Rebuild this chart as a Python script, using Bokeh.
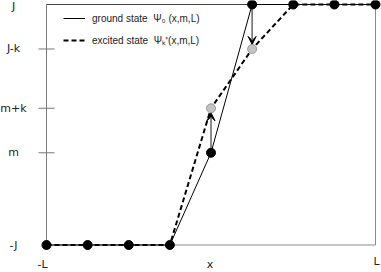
from bokeh.plotting import figure
from bokeh.models import Legend, LegendItem, Arrow, VeeHead
from bokeh.core.properties import value
from bokeh.embed import file_html
from bokeh.resources import INLINE

# ---- data ----
L = 4
J = 10.0
k = 3.7
m = -2.33

x_sites = [-4, -3, -2, -1, 0, 1, 2, 3, 4]
ground = [-J, -J, -J, -J, m, J, J, J, J]
excited = [-J, -J, -J, -J, m + k, J - k, J, J, J]
shift_sites = [0, 1]
shift_from = [m, J]
shift_to = [m + k, J - k]
y_tick_values = [J, J - k, m + k, m, -J]
y_tick_labels = ["J", "J-k", "m+k", "m", "-J"]
y_tick_marks = [J - k, m + k, m]
x_label_values = [-L, 0, L]
x_label_texts = ["-L", "x", "L"]
legend_labels = ["ground state  \u03a8\u2080 (x,m,L)", "excited state  \u03a8\u2096\u207a(x,m,L)"]

# ---- layout (frame covers the whole canvas) ----
W, H = 381, 272
PX_LEFT, PX_RIGHT = 46.0, 375.0     # pixel x of -L and L
PY_TOP, PY_BOT = 4.0, 244.5         # pixel y of J and -J
sx = (PX_RIGHT - PX_LEFT) / (2 * L)
sy = (PY_BOT - PY_TOP) / (2 * J)
x0 = -L - PX_LEFT / sx
x1 = x0 + W / sx
y1 = J + PY_TOP / sy
y0 = y1 - H / sy


def dx(px):
    return x0 + px / sx


def dy(py):
    return y1 - py / sy


p = figure(width=W, height=H, x_range=(x0, x1), y_range=(y0, y1),
           x_axis_type=None, y_axis_type=None, toolbar_location=None,
           output_backend="svg", min_border=0, outline_line_color=None,
           background_fill_color="white", border_fill_color="white")

# frame box
p.line([-L, -L], [-J, J], line_color="#7a7a7a", line_width=1)
p.line([-L, L], [J, J], line_color="#444444", line_width=1)
p.line([L, L], [-J, J], line_color="#8a8a8a", line_width=1)
p.line([-L, L], [-J, -J], line_color="#8a8a8a", line_width=1)

# left tick marks (8 px either side of the axis)
tick_half = 8 / sx
p.segment(x0=[-L - tick_half] * len(y_tick_marks), y0=y_tick_marks,
          x1=[-L + tick_half] * len(y_tick_marks), y1=y_tick_marks,
          line_color="#777777", line_width=1)

# curves
r_ground = p.line(x_sites, ground, line_color="black", line_width=1)
r_exc = p.line(x_sites, excited, line_color="black", line_width=2, line_dash="5 3")

# arrows
r_off = 4.5 / sy
for xs, yf, yt in zip(shift_sites, shift_from, shift_to):
    end_y = yt - r_off if yt > yf else yt + r_off
    arr = Arrow(end=VeeHead(size=8, fill_color="black", line_color="black", line_width=1),
                x_start=xs, y_start=yf, x_end=xs, y_end=end_y,
                line_color="#666666", line_width=1.5, level="underlay")
    p.add_layout(arr)

# points
p.scatter(x_sites, ground, size=9, fill_color="black", line_color="black")
p.scatter(shift_sites, shift_to, size=9, fill_color="#c4c4c4", line_color="#9a9a9a")

# legend
legend = Legend(items=[LegendItem(label=legend_labels[0], renderers=[r_ground]),
                       LegendItem(label=legend_labels[1], renderers=[r_exc])],
                location=(63, 222), padding=0, margin=0, spacing=2,
                glyph_width=22, glyph_height=20, label_height=20, label_standoff=7,
                border_line_color=None, background_fill_alpha=0,
                label_text_font="'Liberation Sans Narrow', 'Liberation Sans', sans-serif",
                label_text_font_size="10px", label_text_color="#222222")
p.add_layout(legend)

# y tick labels (the top one nudged down to stay on the canvas)
label_y = [min(v, dy(6)) for v in y_tick_values]
p.text(x=[dx(13)] * len(y_tick_labels), y=label_y, text=y_tick_labels,
       text_align="center", text_baseline="middle",
       text_font=value("DejaVu Sans"), text_font_size="11px", text_color="#222222")

# x labels
p.text(x=x_label_values, y=[dy(264), dy(264), dy(261)], text=x_label_texts,
       x_offset=[-4, -1, 1],
       text_align="center", text_baseline="middle",
       text_font=value("DejaVu Sans"), text_font_size="11px", text_color="#222222")

open("out.html", "w").write(file_html(p, INLINE))
